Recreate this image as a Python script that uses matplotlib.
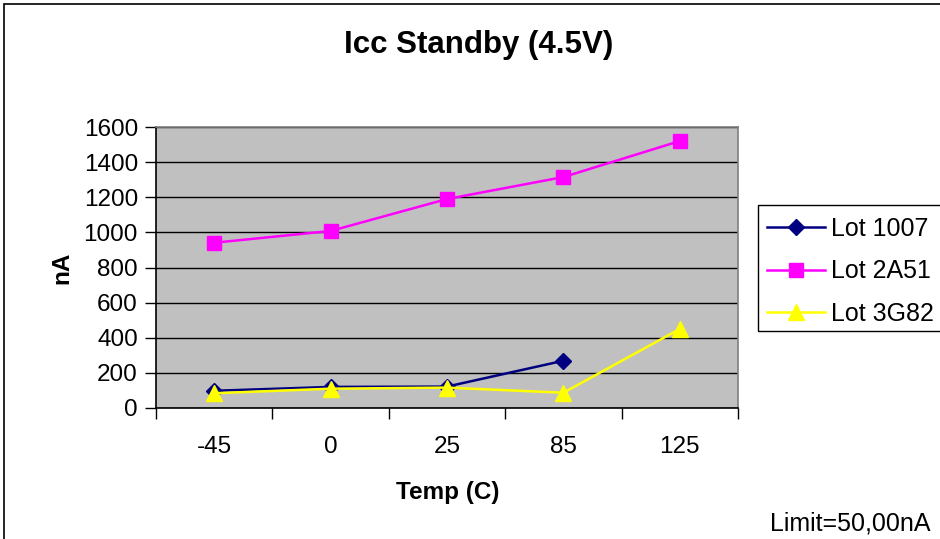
import matplotlib
matplotlib.use("Agg")
import matplotlib.pyplot as plt
from matplotlib.patches import Rectangle
import numpy as np

plt.rcParams['font.family'] = ['Liberation Sans', 'DejaVu Sans']

categories = ["-45", "0", "25", "85", "125"]
lot_1007 = [98, 120, 122, 269, np.nan]
lot_2a51 = [941, 1008, 1190, 1315, 1520]
lot_3g82 = [84, 110, 116, 87, 450]
series_names = ["Lot 1007", "Lot 2A51", "Lot 3G82"]
y_ticks = [0, 200, 400, 600, 800, 1000, 1200, 1400, 1600]

W, H = 940, 539
fig = plt.figure(figsize=(W / 100, H / 100), dpi=100)

def fx(px):
    return px / W

def fy(py):
    return 1 - py / H

ax = fig.add_axes([fx(156), fy(408), fx(738) - fx(156), fy(127) - fy(408)])
ax.set_facecolor("#C0C0C0")

x = np.arange(len(categories))
ax.plot(x, lot_1007, color="#000080", lw=1.8, marker="D", ms=8.5,
        mfc="#000080", mec="#000080", label=series_names[0], zorder=3)
ax.plot(x, lot_2a51, color="#FF00FF", lw=1.8, marker="s", ms=10,
        mfc="#FF00FF", mec="#FF00FF", label=series_names[1], zorder=3)
ax.plot(x, lot_3g82, color="#FFFF00", lw=1.8, marker="^", ms=11,
        mfc="#FFFF00", mec="#FFFF00", label=series_names[2], zorder=4)

ax.set_xlim(-0.5, len(categories) - 0.5)
ax.set_ylim(0, 1600)
ax.set_yticks(y_ticks)
ax.set_yticklabels([str(v) for v in y_ticks])
ax.set_xticks(x)
ax.set_xticklabels(categories)
ax.set_xticks(np.arange(-0.5, len(categories)), minor=True)
ax.tick_params(axis="x", which="major", length=0, pad=20, labelsize=17.5)
ax.tick_params(axis="x", which="minor", length=8, width=1, color="black")
ax.tick_params(axis="y", which="major", length=8, width=1, color="black",
               pad=5, labelsize=17.5)
ax.yaxis.grid(True, color="black", lw=1)
ax.set_axisbelow(True)
for s in ax.spines.values():
    s.set_color("#808080")
    s.set_linewidth(1.2)
ax.spines["left"].set_color("black")
ax.spines["bottom"].set_color("black")

fig.text(fx(479), fy(53), "Icc Standby (4.5V)", ha="center", va="baseline",
         fontsize=22.5, fontweight="bold")
fig.text(fx(448), fy(499), "Temp (C)", ha="center", va="baseline",
         fontsize=17.5, fontweight="bold")
fig.text(fx(62), fy(268), "nA", ha="center", va="center", rotation=90,
         fontsize=17.5, fontweight="bold")
fig.text(fx(930), fy(530), "Limit=50,00nA", ha="right", va="baseline",
         fontsize=18)

# legend
fig.patches.append(Rectangle((fx(758), fy(331)), fx(960) - fx(758), fy(205) - fy(331),
                             transform=fig.transFigure, fill=False,
                             edgecolor="black", lw=1.0))
leg = fig.legend(loc="upper left", bbox_to_anchor=(fx(767), fy(217)),
                 frameon=False, fontsize=18, handlelength=2.3,
                 handletextpad=0.25, labelspacing=0.74, borderpad=0,
                 borderaxespad=0)

# outer figure border
fig.patches.append(Rectangle((fx(4), -0.1), 1.2, fy(4) + 0.1,
                             transform=fig.transFigure, fill=False,
                             edgecolor="black", lw=1.2))

fig.savefig("out.png", dpi=100)
